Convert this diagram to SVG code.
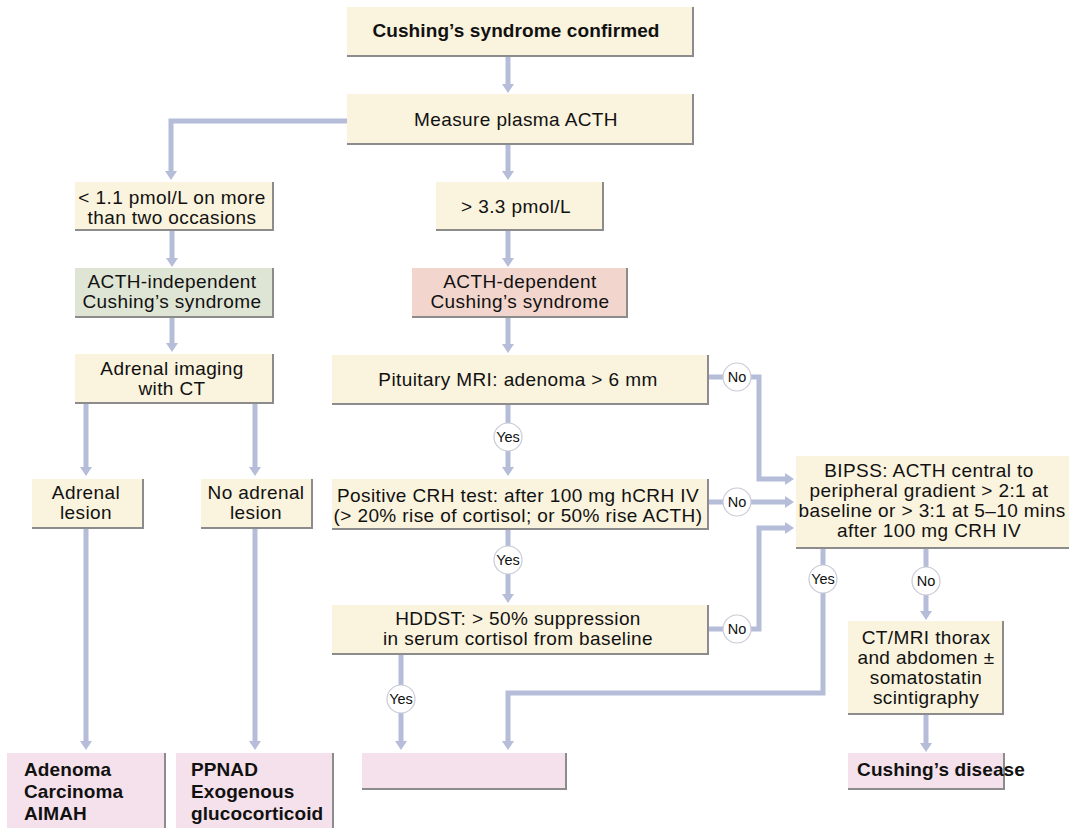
<svg xmlns="http://www.w3.org/2000/svg" width="1069" height="828" viewBox="0 0 1069 828">
<style>
.b{stroke:none}
.cr{fill:#faf3dd}
.gr{fill:#dfe5d5}
.pk{fill:#f2d6cd}
.rs{fill:#f5e1eb}
.sh{fill:none;stroke:#8c8c8c;stroke-width:2}
text{font-family:"Liberation Sans",Arial,Helvetica,sans-serif;font-size:19px;letter-spacing:0.4px;fill:#111;text-anchor:middle}
.bold{font-weight:bold;letter-spacing:0.1px}
.l{text-anchor:start}
.c{fill:none;stroke:#b5bdd9;stroke-width:5}
.ci{fill:#fff;stroke:#c9cbd6;stroke-width:1.2}
.ct{font-size:14.5px;letter-spacing:0}
</style>
<defs>
<marker id="a" viewBox="0 0 9 12" refX="2" refY="6" markerWidth="9" markerHeight="12" markerUnits="userSpaceOnUse" orient="auto">
<path d="M0,0 L9,6 L0,12 z" fill="#b5bdd9"/>
</marker>
</defs>

<g id="connectors">
<path class="c" d="M508,56 V86" marker-end="url(#a)"/>
<path class="c" d="M347,121 H171 V173" marker-end="url(#a)"/>
<path class="c" d="M508,144 V173" marker-end="url(#a)"/>
<path class="c" d="M172,230 V260" marker-end="url(#a)"/>
<path class="c" d="M508,230 V260" marker-end="url(#a)"/>
<path class="c" d="M172,317 V345" marker-end="url(#a)"/>
<path class="c" d="M508,317 V346" marker-end="url(#a)"/>
<path class="c" d="M86,403 V469" marker-end="url(#a)"/>
<path class="c" d="M255,403 V469" marker-end="url(#a)"/>
<path class="c" d="M86,528 V743" marker-end="url(#a)"/>
<path class="c" d="M255,528 V743" marker-end="url(#a)"/>
<path class="c" d="M508,404 V469" marker-end="url(#a)"/>
<path class="c" d="M508,529 V596" marker-end="url(#a)"/>
<path class="c" d="M401,654 V743" marker-end="url(#a)"/>
<path class="c" d="M708,377 H759 V479 H787" marker-end="url(#a)"/>
<path class="c" d="M708,502 H787" marker-end="url(#a)"/>
<path class="c" d="M708,629 H759 V528 H787" marker-end="url(#a)"/>
<path class="c" d="M823,548 V693 H508 V743" marker-end="url(#a)"/>
<path class="c" d="M926,548 V613" marker-end="url(#a)"/>
<path class="c" d="M926,714 V745" marker-end="url(#a)"/>
<circle class="ci" cx="508" cy="437" r="14"/><text class="ct" x="508" y="442">Yes</text>
<circle class="ci" cx="508" cy="560" r="14"/><text class="ct" x="508" y="565">Yes</text>
<circle class="ci" cx="401" cy="699" r="14"/><text class="ct" x="401" y="704">Yes</text>
<circle class="ci" cx="737" cy="377" r="14"/><text class="ct" x="737" y="382">No</text>
<circle class="ci" cx="737" cy="502" r="14"/><text class="ct" x="737" y="507">No</text>
<circle class="ci" cx="737" cy="629" r="14"/><text class="ct" x="737" y="634">No</text>
<circle class="ci" cx="823" cy="579" r="14"/><text class="ct" x="823" y="584">Yes</text>
<circle class="ci" cx="926" cy="581" r="14"/><text class="ct" x="926" y="586">No</text>
</g>

<g id="n-confirmed">
<rect class="b cr" x="347" y="7" width="346" height="49"/>
<path class="sh" d="M693,7 V56 H347"/>
<text class="bold" x="516" y="37">Cushing’s syndrome confirmed</text>
</g>
<g id="n-measure">
<rect class="b cr" x="347" y="94" width="346" height="50"/>
<path class="sh" d="M693,94 V144 H347"/>
<text x="516" y="126">Measure plasma ACTH</text>
</g>
<g id="n-low">
<rect class="b cr" x="75" y="182" width="198" height="48"/>
<path class="sh" d="M273,182 V230 H75"/>
<text x="172" y="204">&lt; 1.1 pmol/L on more</text>
<text x="172" y="224">than two occasions</text>
</g>
<g id="n-high">
<rect class="b cr" x="436" y="182" width="167" height="48"/>
<path class="sh" d="M603,182 V230 H436"/>
<text x="516" y="213">&gt; 3.3 pmol/L</text>
</g>
<g id="n-indep">
<rect class="b gr" x="75" y="268" width="198" height="49"/>
<path class="sh" d="M273,268 V317 H75"/>
<text x="172" y="288">ACTH-independent</text>
<text x="172" y="308">Cushing’s syndrome</text>
</g>
<g id="n-dep">
<rect class="b pk" x="412" y="268" width="215" height="49"/>
<path class="sh" d="M627,268 V317 H412"/>
<text x="520" y="288">ACTH-dependent</text>
<text x="520" y="308">Cushing’s syndrome</text>
</g>
<g id="n-imaging">
<rect class="b cr" x="75" y="354" width="198" height="49"/>
<path class="sh" d="M273,354 V403 H75"/>
<text x="172" y="375">Adrenal imaging</text>
<text x="172" y="395">with CT</text>
</g>
<g id="n-mri">
<rect class="b cr" x="332" y="355" width="376" height="49"/>
<path class="sh" d="M708,355 V404 H332"/>
<text x="518" y="386">Pituitary MRI: adenoma &gt; 6 mm</text>
</g>
<g id="n-lesion">
<rect class="b cr" x="32" y="479" width="111" height="49"/>
<path class="sh" d="M143,479 V528 H32"/>
<text x="86" y="499">Adrenal</text>
<text x="86" y="519">lesion</text>
</g>
<g id="n-nolesion">
<rect class="b cr" x="201" y="479" width="111" height="49"/>
<path class="sh" d="M312,479 V528 H201"/>
<text x="256" y="499">No adrenal</text>
<text x="256" y="519">lesion</text>
</g>
<g id="n-crh">
<rect class="b cr" x="332" y="479" width="376" height="50"/>
<path class="sh" d="M708,479 V529 H332"/>
<text x="518" y="502">Positive CRH test: after 100 mg hCRH IV</text>
<text x="518" y="522">(&gt; 20% rise of cortisol; or 50% rise ACTH)</text>
</g>
<g id="n-hddst">
<rect class="b cr" x="332" y="605" width="376" height="49"/>
<path class="sh" d="M708,605 V654 H332"/>
<text x="518" y="625">HDDST: &gt; 50% suppression</text>
<text x="518" y="645">in serum cortisol from baseline</text>
</g>
<g id="n-bipss">
<rect class="b cr" x="796" y="456" width="280" height="92"/>
<path class="sh" d="M796,548 H1076"/>
<text x="929" y="477">BIPSS: ACTH central to</text>
<text x="929" y="497">peripheral gradient &gt; 2:1 at</text>
<text x="932" y="517">baseline or &gt; 3:1 at 5–10 mins</text>
<text x="929" y="537">after 100 mg CRH IV</text>
</g>
<g id="n-ctmri">
<rect class="b cr" x="848" y="621" width="155" height="93"/>
<path class="sh" d="M1003,621 V714 H848"/>
<text x="926" y="644">CT/MRI thorax</text>
<text x="926" y="664">and abdomen ±</text>
<text x="926" y="684">somatostatin</text>
<text x="926" y="704">scintigraphy</text>
</g>
<g id="n-adenoma">
<rect class="b rs" x="7" y="753" width="158" height="80"/>
<path class="sh" d="M165,753 V830"/>
<text class="bold l" x="24" y="776">Adenoma</text>
<text class="bold l" x="24" y="798">Carcinoma</text>
<text class="bold l" x="24" y="820">AIMAH</text>
</g>
<g id="n-ppnad">
<rect class="b rs" x="176" y="753" width="157" height="80"/>
<path class="sh" d="M333,753 V830"/>
<text class="bold l" x="191" y="776">PPNAD</text>
<text class="bold l" x="191" y="798">Exogenous</text>
<text class="bold l" x="191" y="820">glucocorticoid</text>
</g>
<g id="n-empty">
<rect class="b rs" x="362" y="753" width="204" height="36"/>
<path class="sh" d="M566,753 V789 H362"/>
</g>
<g id="n-disease">
<rect class="b rs" x="848" y="753" width="156" height="36"/>
<path class="sh" d="M1004,753 V789 H848"/>
<text class="bold" x="941" y="776">Cushing’s disease</text>
</g>
</svg>
